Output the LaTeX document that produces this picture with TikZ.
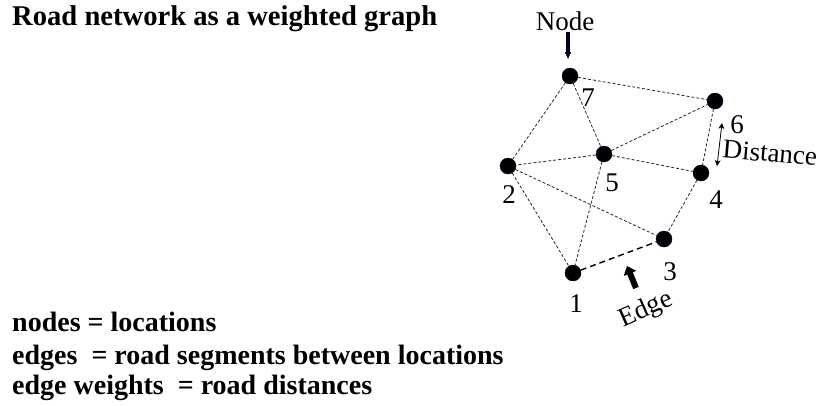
\documentclass[tikz,border=0pt]{standalone}
\usepackage{fontspec}
\setmainfont{Liberation Serif}
\usetikzlibrary{arrows.meta}
\begin{document}
\begin{tikzpicture}[x=1pt,y=-1pt,
  vtx/.style={circle,fill=black,draw=black!80!blue,line width=0.4pt,minimum size=16pt,inner sep=0pt},
  road/.style={dashed,dash pattern=on 3pt off 2pt,line width=0.8pt,black!85},
  mainroad/.style={dash pattern=on 6pt off 4pt,line width=1.4pt},
  lbl/.style={font=\fontsize{27}{29}\selectfont,inner sep=0pt},
  txt/.style={font=\fontsize{28}{30}\selectfont\bfseries,inner sep=0pt,anchor=base west}]
\useasboundingbox (0,0) rectangle (820,405);
\node[txt,font=\fontsize{28.6}{30}\selectfont\bfseries] (title) at (12,25) {Road network as a weighted graph};
\node[txt] (l1) at (12,331) {nodes = locations};
\node[txt] (l2) at (12,364) {edges\ \ = road segments between locations};
\node[txt] (l3) at (12,394) {edge weights\ \ = road distances};
\node[vtx] (n7) at (570,76) {};
\node[vtx] (n6) at (715,101) {};
\node[vtx] (n5) at (604,154) {};
\node[vtx] (n2) at (508,166) {};
\node[vtx] (n4) at (701,173) {};
\node[vtx] (n3) at (664,239) {};
\node[vtx] (n1) at (573,273) {};
\draw[road] (n7) -- (n6);
\draw[road] (n7) -- (n2);
\draw[road] (n7) -- (n5);
\draw[road] (n5) -- (n2);
\draw[road] (n5) -- (n6);
\draw[road] (n5) -- (n4);
\draw[road] (n6) -- (n4);
\draw[road] (n4) -- (n3);
\draw[road] (n2) -- (n3);
\draw[road] (n2) -- (n1);
\draw[road] (n5) -- (n1);
\draw[mainroad] (n1) -- (n3);
\node[lbl] (t7) at (588,98) {7};
\node[lbl] (t6) at (737,125) {6};
\node[lbl] (t5) at (612,183) {5};
\node[lbl] (t2) at (509,195) {2};
\node[lbl] (t4) at (716,200) {4};
\node[lbl] (t3) at (670,272) {3};
\node[lbl] (t1) at (576,304) {1};
\node[lbl] (nodelbl) at (565,21) {Node};
\coordinate (na) at (568,32);
\coordinate (nb) at (568,59);
\draw[line width=3.4pt,draw=black!85!blue,-{Triangle[length=7pt,width=6pt,fill=black!85!blue]}] (na) -- (nb);
\node[lbl,rotate=-5] (dist) at (770,153) {Distance};
\coordinate (da) at (722,123);
\coordinate (db) at (717,166);
\draw[line width=0.8pt,{Stealth[length=6pt,width=6pt]}-{Stealth[length=6pt,width=6pt]}] (da) -- (db);
\node[lbl,rotate=24] (edgelbl) at (646,310) {Edge};
\coordinate (ea) at (636,288);
\coordinate (eb) at (627,266);
\draw[line width=6pt,-{Triangle[length=8pt,width=13pt]}] (ea) -- (eb);
\end{tikzpicture}
\end{document}
